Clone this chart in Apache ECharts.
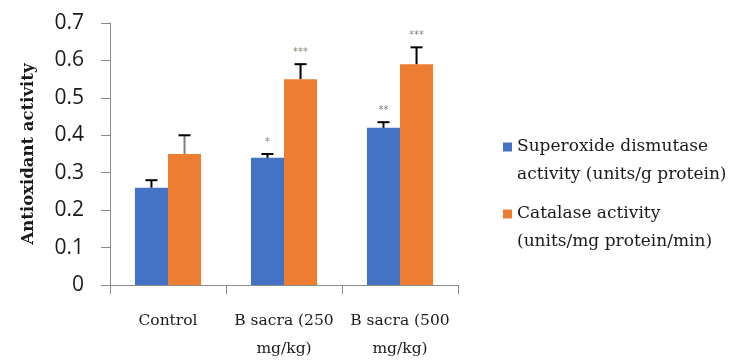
<!DOCTYPE html>
<html>
<head>
<meta charset="utf-8">
<script src="https://cdn.jsdelivr.net/npm/echarts@6/dist/echarts.min.js"></script>
<style>
  html, body { margin: 0; padding: 0; background: #ffffff; }
  #chart { width: 731px; height: 360px; }
</style>
</head>
<body>
<div id="chart"></div>
<script>
// Groups along the x axis
const categories = ['Control', 'B sacra (250\nmg/kg)', 'B sacra (500\nmg/kg)'];

// Superoxide dismutase activity (units/g protein)
const sodValues = [0.26, 0.34, 0.42];
const sodErrors = [0.02, 0.01, 0.015];
const sodMarks = ['', '*', '**'];

// Catalase activity (units/mg protein/min)
const catValues = [0.35, 0.55, 0.59];
const catErrors = [0.05, 0.04, 0.045];
const catMarks = ['', '***', '***'];

const seriesNames = [
  'Superoxide dismutase\nactivity (units/g protein)',
  'Catalase activity\n(units/mg protein/min)'
];

// y axis ticks
const yMin = 0, yMax = 0.7, yStep = 0.1;

const BLUE = '#4472C4';
const ORANGE = '#ED7D31';
const BAR_FRACTION = 0.285;   // bar width as a share of the category band
const SERIF = '"DejaVu Serif", "Liberation Serif", serif';

function errorSeries(values, errors, marks, side, stemColorFn) {
  return {
    type: 'custom',
    z: 5,
    clip: false,
    silent: true,
    data: values.map((v, i) => [i, v, errors[i]]),
    renderItem: function (params, api) {
      const i = api.value(0);
      const v = api.value(1);
      const e = api.value(2);
      const band = api.size([1, 0])[0];
      const dx = side * band * BAR_FRACTION / 2;
      const base = api.coord([i, v]);
      const top = api.coord([i, v + e]);
      const x = base[0] + dx;
      const capHalf = 6;
      const mark = marks[params.dataIndex];
      const children = [
        { type: 'line', shape: { x1: x, y1: base[1], x2: x, y2: top[1] },
          style: { stroke: stemColorFn(params.dataIndex), lineWidth: 2 } },
        { type: 'line', shape: { x1: x - capHalf, y1: top[1], x2: x + capHalf, y2: top[1] },
          style: { stroke: '#000', lineWidth: 2 } }
      ];
      if (mark) {
        children.push({
          type: 'text',
          style: {
            text: mark, x: x, y: top[1] - 12,
            align: 'center', verticalAlign: 'middle',
            font: '10px "DejaVu Sans", sans-serif', fill: '#8c7f72'
          }
        });
      }
      return { type: 'group', children: children };
    }
  };
}

const chart = echarts.init(document.getElementById('chart'), null, { renderer: 'canvas' });

chart.setOption({
  animation: false,
  backgroundColor: '#ffffff',
  grid: { left: 110, right: 273, top: 23, bottom: 75, containLabel: false, outerBoundsMode: 'none' },
  legend: {
    data: seriesNames,
    orient: 'vertical',
    left: 498,
    top: 100,
    itemWidth: 9,
    itemHeight: 9,
    itemGap: -17,
    icon: 'rect',
    // a leading blank line keeps the swatch level with the first text line
    formatter: name => '\u00a0\n' + name,
    textStyle: {
      fontFamily: SERIF,
      fontSize: 17,
      color: '#1a1a1a',
      lineHeight: 28
    }
  },
  xAxis: {
    type: 'category',
    data: categories,
    axisLine: { lineStyle: { color: '#8a8a8a', width: 1 } },
    axisTick: { show: true, alignWithLabel: false, length: 9, lineStyle: { color: '#8a8a8a' } },
    axisLabel: {
      interval: 0,
      margin: 22,
      fontFamily: SERIF,
      fontSize: 15.5,
      color: '#1a1a1a',
      lineHeight: 28
    }
  },
  yAxis: {
    type: 'value',
    min: yMin,
    max: yMax,
    interval: yStep,
    name: 'Antioxidant activity',
    nameLocation: 'middle',
    nameGap: 73,
    nameTextStyle: { fontFamily: SERIF, fontSize: 16.5, fontWeight: 'bold', color: '#1a1a1a' },
    splitLine: { show: false },
    axisLine: { show: true, lineStyle: { color: '#8a8a8a', width: 1 } },
    axisTick: { show: true, length: 9, lineStyle: { color: '#8a8a8a' } },
    axisLabel: {
      margin: 26,
      fontFamily: '"Open Sans", "Liberation Sans", sans-serif',
      fontSize: 21,
      color: '#1a1a1a',
      formatter: v => (Math.round(v * 10) / 10).toString()
    }
  },
  series: [
    {
      name: seriesNames[0], type: 'bar', data: sodValues,
      barWidth: (BAR_FRACTION * 100) + '%', barGap: '0%',
      itemStyle: { color: BLUE }
    },
    {
      name: seriesNames[1], type: 'bar', data: catValues,
      barWidth: (BAR_FRACTION * 100) + '%', barGap: '0%',
      itemStyle: { color: ORANGE }
    },
    errorSeries(sodValues, sodErrors, sodMarks, -1, () => '#000'),
    errorSeries(catValues, catErrors, catMarks, 1, i => (i === 0 ? '#7f7f7f' : '#000'))
  ]
});
</script>
</body>
</html>
